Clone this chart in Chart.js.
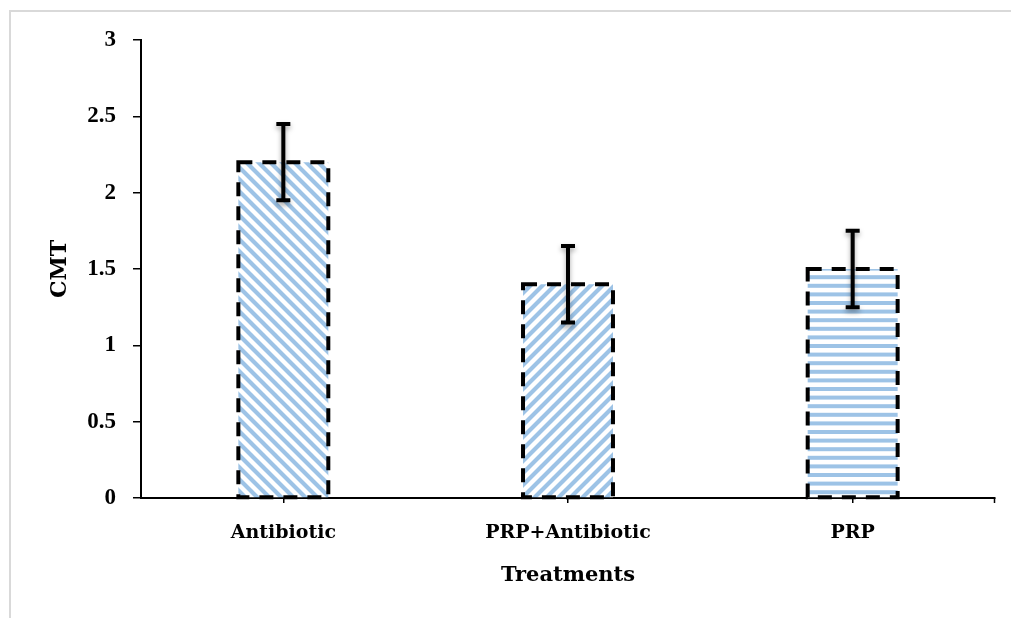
<!DOCTYPE html>
<html>
<head>
<meta charset="utf-8">
<script src="https://cdn.jsdelivr.net/npm/chart.js@4/dist/chart.umd.min.js"></script>
<style>
  html, body { margin: 0; padding: 0; background: #fff; overflow: hidden; }
  #wrap { width: 1011px; height: 618px; position: relative; }
</style>
</head>
<body>
<div id="wrap"><canvas id="c" width="1011" height="618"></canvas></div>
<script>
// CMT by treatment group, mean with error
const categories = ['Antibiotic', 'PRP+Antibiotic', 'PRP'];
const cmtMeans = [2.2, 1.4, 1.5];
const cmtErrors = [0.25, 0.25, 0.25];
const yTicks = [0, 0.5, 1, 1.5, 2, 2.5, 3];
const hatchStyles = ['back', 'forward', 'horizontal'];

const STRIPE = '#9DC3E6';
const SERIF = "'DejaVu Serif', 'Liberation Serif', serif";
const NUM_SERIF = "'Liberation Serif', 'DejaVu Serif', serif";

// Build a repeating hatch fill
function makeHatch(kind) {
  const t = document.createElement('canvas');
  const ctx = t.getContext('2d');
  if (kind === 'horizontal') {
    const period = 8.6, n = 5;
    t.width = 12; t.height = Math.round(period * n);
    ctx.fillStyle = '#fff';
    ctx.fillRect(0, 0, t.width, t.height);
    ctx.fillStyle = STRIPE;
    for (let k = 0; k < n; k++) ctx.fillRect(0, k * period, t.width, 4);
  } else {
    const s = 12;
    t.width = s; t.height = s;
    ctx.fillStyle = '#fff';
    ctx.fillRect(0, 0, s, s);
    ctx.strokeStyle = STRIPE;
    ctx.lineWidth = 4.2;
    ctx.beginPath();
    for (let c = -s; c <= s; c += s) {
      if (kind === 'back') { ctx.moveTo(c - 2, -2); ctx.lineTo(c + s + 2, s + 2); }
      else { ctx.moveTo(c - 2, s + 2); ctx.lineTo(c + s + 2, -2); }
    }
    ctx.stroke();
  }
  return document.getElementById('c').getContext('2d').createPattern(t, 'repeat');
}

const decorations = {
  id: 'decorations',
  beforeDraw(chart) {
    const ctx = chart.ctx;
    ctx.save();
    ctx.fillStyle = '#fff';
    ctx.fillRect(0, 0, chart.width, chart.height);
    ctx.strokeStyle = '#d9d9d9';
    ctx.lineWidth = 2;
    ctx.beginPath();
    ctx.moveTo(10, chart.height);
    ctx.lineTo(10, 11);
    ctx.lineTo(chart.width, 11);
    ctx.stroke();
    ctx.restore();
  },
  beforeDatasetsDraw(chart) {
    // closing tick at the right end of the category axis
    const ctx = chart.ctx;
    const xr = chart.chartArea.right, yb = chart.chartArea.bottom;
    ctx.save();
    ctx.strokeStyle = '#000';
    ctx.lineWidth = 1.5;
    ctx.beginPath();
    ctx.moveTo(xr - 0.5, yb);
    ctx.lineTo(xr - 0.5, yb + 5);
    ctx.stroke();
    ctx.restore();
  },
  afterDatasetsDraw(chart) {
    const ctx = chart.ctx;
    const meta = chart.getDatasetMeta(0);
    const yScale = chart.scales.y;
    ctx.save();
    ctx.strokeStyle = '#000';
    // dashed outlines of the bars
    ctx.setLineDash([14, 10]);
    ctx.lineWidth = 4;
    meta.data.forEach(bar => {
      const p = bar.getProps(['x', 'y', 'base', 'width'], true);
      ctx.beginPath();
      ctx.rect(p.x - p.width / 2, p.y, p.width, p.base - p.y);
      ctx.stroke();
    });
    // error bars with a soft drop shadow
    ctx.setLineDash([]);
    ctx.shadowColor = 'rgba(0,0,0,0.35)';
    ctx.shadowBlur = 5;
    ctx.shadowOffsetY = 3;
    meta.data.forEach((bar, i) => {
      const hi = yScale.getPixelForValue(cmtMeans[i] + cmtErrors[i]);
      const lo = yScale.getPixelForValue(cmtMeans[i] - cmtErrors[i]);
      ctx.lineWidth = 4;
      ctx.beginPath();
      ctx.moveTo(bar.x, hi); ctx.lineTo(bar.x, lo);
      ctx.moveTo(bar.x - 7, hi); ctx.lineTo(bar.x + 7, hi);
      ctx.moveTo(bar.x - 7, lo); ctx.lineTo(bar.x + 7, lo);
      ctx.stroke();
    });
    ctx.restore();
  }
};

new Chart(document.getElementById('c'), {
  type: 'bar',
  data: {
    labels: categories,
    datasets: [{
      label: 'CMT',
      data: cmtMeans,
      backgroundColor: hatchStyles.map(makeHatch),
      borderWidth: 0,
      categoryPercentage: 1,
      barPercentage: 0.316
    }]
  },
  options: {
    responsive: false,
    animation: false,
    layout: { padding: { left: 0, right: 16, top: 40, bottom: 0 } },
    plugins: { legend: { display: false }, tooltip: { enabled: false } },
    scales: {
      x: {
        offset: true,
        grid: { offset: false, drawOnChartArea: false, drawTicks: true, tickLength: 5, color: '#000', lineWidth: 1.5 },
        border: { display: true, color: '#000', width: 2 },
        ticks: { color: '#000', padding: 19, font: { family: SERIF, size: 19, weight: 'bold' }, maxRotation: 0 },
        title: { display: true, text: 'Treatments', color: '#000', font: { family: SERIF, size: 21, weight: 'bold' }, padding: { top: 0, bottom: 30 } },
        afterFit(s) { s.height = 120; }
      },
      y: {
        min: 0,
        max: 3,
        afterBuildTicks(s) { s.ticks = yTicks.map(v => ({ value: v })); },
        grid: { drawOnChartArea: false, drawTicks: true, tickLength: 8, color: '#000', lineWidth: 1.5 },
        border: { display: true, color: '#000', width: 2 },
        ticks: { color: '#000', padding: 17, font: { family: NUM_SERIF, size: 23, weight: 'bold' }, callback: v => String(v) },
        title: { display: true, text: 'CMT', color: '#000', font: { family: SERIF, size: 22, weight: 'bold' }, padding: { top: 47, bottom: 0 } },
        afterFit(s) { s.width = 141; }
      }
    }
  },
  plugins: [decorations]
});
</script>
</body>
</html>
